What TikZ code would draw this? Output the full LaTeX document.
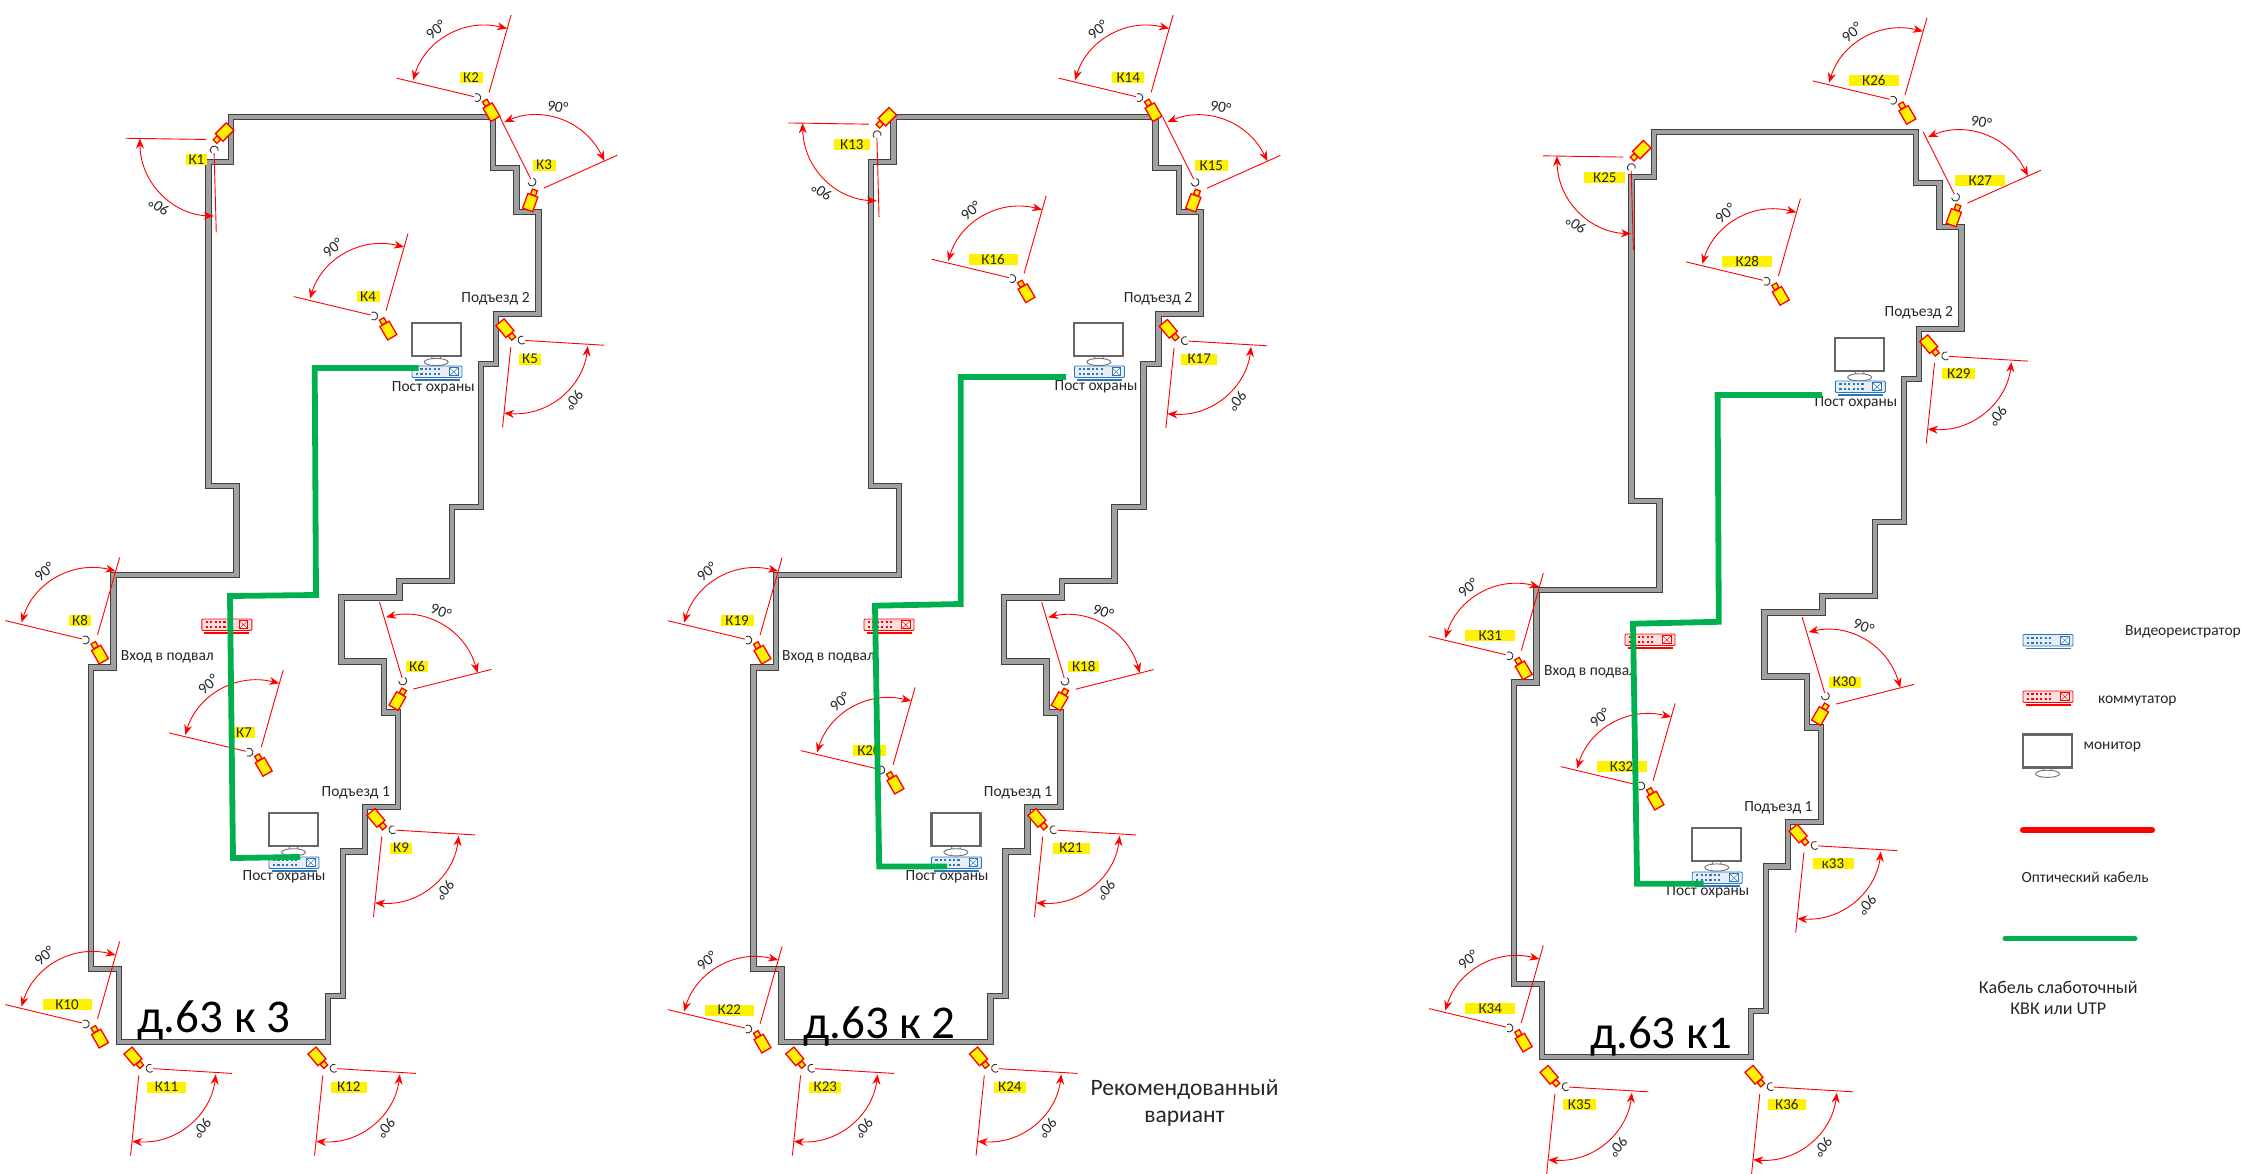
\documentclass[tikz,border=0pt]{standalone}
\usepackage{fontspec}
\setmainfont{Carlito}
\usetikzlibrary{arrows.meta}
\definecolor{walldark}{HTML}{404040}
\definecolor{wallgray}{HTML}{A0A0A0}
\definecolor{cablegreen}{HTML}{00B050}
\definecolor{nvrblue}{HTML}{2E75B6}
\definecolor{txtdark}{HTML}{262626}
\tikzset{
  wall/.style={draw=walldark, line width=1pt, double=wallgray, double distance=4.4pt, miter limit=4},
  cable/.style={cablegreen, line width=5.8pt},
  ray/.style={red, line width=.9pt},
  sector/.style={red, line width=.9pt, {Stealth[length=10pt,width=8pt]}-{Stealth[length=10pt,width=8pt]}},
  cambody/.style={fill=yellow, draw=red, line width=1.3pt},
  camlabel/.style={fill=yellow, inner sep=0pt, minimum width=#1pt, minimum height=11pt, font=\fontsize{15}{15}\selectfont, text=txtdark},
  plainlabel/.style={font=\fontsize{15.5}{15.5}\selectfont, text=txtdark, inner sep=0pt},
  title/.style={font=\fontsize{47}{47}\selectfont, text=black, inner sep=0pt},
  pics/walls/.style={code={
    \draw[wall] (231,117) -- (493,117) -- (493,168) -- (516.5,168) -- (516.5,212) -- (538.5,212)
      -- (538.5,314) -- (496,314) -- (496,364) -- (481,364) -- (481,507) -- (452,507) -- (452,581)
      -- (399.5,581) -- (399.5,597.5) -- (341.5,597.5) -- (341.5,661.6) -- (384,661.6) -- (384,712.5)
      -- (398,712.5) -- (398,807) -- (365,807) -- (365,851.6) -- (343,851.6) -- (343,996) -- (328,996)
      -- (328,1042) -- (119,1042) -- (119,969) -- (91,969) -- (91,667.5) -- (113.4,667.5) -- (113.4,575)
      -- (236.6,575) -- (236.6,486) -- (208.5,486) -- (208.5,162) -- (231,162) -- cycle;
  }},
  pics/cam/.style={code={
    \draw[ray] ({-80*#1},{-19.4*#1}) -- (-3,-1);
    \draw[ray] (12.3,-5.2) -- (34.3,-82.6);
    \draw[sector] (-63.7,-17.5) .. controls (-52,-56) and (-14,-80) .. (30.3,-69);
    \node[font=\fontsize{15.5}{15.5}\selectfont, text=txtdark, inner sep=0pt, rotate=40, transform shape] (-deg) at (-41,-68) {90°};
    \draw[black!80, line width=.9pt] (120:4) arc[start angle=120, end angle=-120, radius=4];
    \begin{scope}[shift={(14.7,14.6)}, rotate=30]
      \filldraw[cambody] (-2.6,-13.5) rectangle (2.6,-8.2);
      \filldraw[cambody] (-5.3,-7.7) rectangle (5.3,7.7);
    \end{scope}
  }},
  pics/cam/.default=1,
  pics/nvr/.style={code={
    \draw[#1, line width=.9pt, fill=#1!12, rounded corners=1pt] (0,0) rectangle (50,11.5);
    \draw[#1, line width=1.8pt] (2.5,14) -- (47.5,14);
    \draw[#1, line width=2pt, dash pattern=on 2.2pt off 2.2pt] (4,3.2) -- (29,3.2);
    \draw[#1, line width=2pt, dash pattern=on 2.2pt off 2.2pt] (4,8) -- (29,8);
    \draw[#1, line width=.8pt, fill=white] (37.5,1.8) rectangle (46,9.8);
    \draw[#1, line width=.5pt] (37.5,1.8) -- (46,9.8) (37.5,9.8) -- (46,1.8);
  }},
  pics/monitor/.style={code={
    \draw[walldark!80, line width=2.2pt, fill=white] (0,0) rectangle (49,33);
    \draw[walldark!75, line width=.8pt] (20.5,34) -- (19.5,37) (28.5,34) -- (29.5,37);
    \draw[walldark!75, line width=.9pt, fill=white] (24.5,39.3) ellipse [x radius=12, y radius=3.6];
  }}
}
\begin{document}
\begin{tikzpicture}[x=1pt, y=-1pt]
  \useasboundingbox (0,0) rectangle (2241,1173);

  % house 3
  \pic (house3) at (0,0) {walls};
  \pic (sw3) at (201.8,619) {nvr=red};
  \pic (mon3a) at (411.7,322.7) {monitor};
  \pic (nvr3a) at (412,366) {nvr=nvrblue};
  \pic (mon3b) at (269,813) {monitor};
  \pic (nvr3b) at (269,857) {nvr=nvrblue};
  \pic[rotate=105] (cam1) at (214.3,150) {cam};
  \pic (cam2) at (476.8,97.6) {cam};
  \pic[rotate=-50] (cam3) at (532,182) {cam=.88};
  \pic (cam4) at (373.7,316) {cam};
  \pic[rotate=190] (cam5) at (522,340) {cam};
  \pic[rotate=-60] (cam6) at (402.7,681) {cam};
  \pic (cam7) at (249,752.3) {cam};
  \pic (cam8) at (85.3,640) {cam};
  \pic[rotate=190] (cam9) at (392.9,829.7) {cam};
  \pic (cam10) at (85.3,1024) {cam};
  \pic[rotate=190] (cam11) at (150,1068.2) {cam};
  \pic[rotate=190] (cam12) at (334,1068.2) {cam};
  \node[camlabel=21] (k1) at (196.4,159.6) {К1};
  \node[camlabel=23] (k2) at (471,77.7) {К2};
  \node[camlabel=23] (k3) at (544,165) {К3};
  \node[camlabel=23] (k4) at (368,296.6) {К4};
  \node[camlabel=22] (k5) at (530,359) {К5};
  \node[camlabel=22] (k6) at (417,666.7) {К6};
  \node[camlabel=21] (k7) at (244,732.8) {К7};
  \node[camlabel=22] (k8) at (80,620.6) {К8};
  \node[camlabel=22] (k9) at (401,848) {К9};
  \node[camlabel=49] (k10) at (67,1004.5) {К10};
  \node[camlabel=39] (k11) at (166.5,1087) {К11};
  \node[camlabel=36] (k12) at (348.7,1087) {К12};
  \node[plainlabel] (door3b) at (495.5,298.5) {Подъезд 2};
  \node[plainlabel] (door3a) at (355.8,792.6) {Подъезд 1};
  \node[plainlabel] (cellar3) at (167.4,656.6) {Вход в подвал};
  \node[plainlabel] (post3a) at (433.3,387.8) {Пост охраны};
  \node[plainlabel] (post3b) at (284,876.5) {Пост охраны};
  \node[title] (name3) at (214,1020) {д.63 к 3};
  \draw[cable] (418.7,368) -- (314.7,368) -- (316,595) -- (230,596) -- (233,858) -- (300,857);

  % house 2
  \pic (house2) at (662.5,0) {walls};
  \pic (sw2) at (864,619) {nvr=red};
  \pic (mon2a) at (1074.3,322.7) {monitor};
  \pic (nvr2a) at (1074.5,366) {nvr=nvrblue};
  \pic (mon2b) at (931.4,813) {monitor};
  \pic (nvr2b) at (931.4,857) {nvr=nvrblue};
  \pic[rotate=105] (cam13) at (877.1,134.7) {cam};
  \pic (cam14) at (1138.8,97.6) {cam};
  \pic[rotate=-50] (cam15) at (1195,182.2) {cam=.88};
  \pic (cam16) at (1011.8,278.6) {cam};
  \pic[rotate=190] (cam17) at (1185.3,340.6) {cam};
  \pic[rotate=-60] (cam18) at (1064.9,681.2) {cam};
  \pic (cam19) at (747.8,640.1) {cam};
  \pic (cam20) at (880.8,770) {cam};
  \pic[rotate=190] (cam21) at (1053.9,829.7) {cam};
  \pic (cam22) at (747.8,1029) {cam};
  \pic[rotate=190] (cam23) at (811.8,1068.2) {cam};
  \pic[rotate=190] (cam24) at (995.5,1068.2) {cam};
  \node[camlabel=36] (k13) at (851.8,144.7) {К13};
  \node[camlabel=32] (k14) at (1128.2,77.7) {К14};
  \node[camlabel=33] (k15) at (1211.4,165.3) {К15};
  \node[camlabel=49] (k16) at (993,259) {К16};
  \node[camlabel=36] (k17) at (1199.2,359) {К17};
  \node[camlabel=31] (k18) at (1083.7,666.3) {К18};
  \node[camlabel=33] (k19) at (737.1,620.6) {К19};
  \node[camlabel=33] (k20) at (869,750.8) {К20};
  \node[camlabel=37] (k21) at (1071,848.1) {К21};
  \node[camlabel=49] (k22) at (729.4,1010) {К22};
  \node[camlabel=32] (k23) at (825.3,1087) {К23};
  \node[camlabel=32] (k24) at (1009.8,1087) {К24};
  \node[plainlabel] (door2b) at (1158,298.5) {Подъезд 2};
  \node[plainlabel] (door2a) at (1018,792.6) {Подъезд 1};
  \node[plainlabel] (cellar2) at (828.6,656.6) {Вход в подвал};
  \node[plainlabel] (post2a) at (1096,387) {Пост охраны};
  \node[plainlabel] (post2b) at (947,876.5) {Пост охраны};
  \node[title] (name2) at (879.5,1026.5) {д.63 к 2};
  \node[font=\fontsize{23.5}{23.5}\selectfont, text=txtdark, inner sep=0pt] (advice1) at (1184.5,1089.5) {Рекомендованный};
  \node[font=\fontsize{23.5}{23.5}\selectfont, text=txtdark, inner sep=0pt] (advice2) at (1184.5,1119) {вариант};
  \draw[cable] (1066,377) -- (960.8,377) -- (960.8,604) -- (875,605.7) -- (879.2,866.5) -- (947,866.5);

  % house 1
  \pic (house1) at (1423,15) {walls};
  \pic (sw1) at (1625,634) {nvr=red};
  \pic (mon1a) at (1835.1,338) {monitor};
  \pic (nvr1a) at (1835.3,381) {nvr=nvrblue};
  \pic (mon1b) at (1692.2,828.2) {monitor};
  \pic (nvr1b) at (1692.2,872) {nvr=nvrblue};
  \pic[rotate=105] (cam25) at (1631.4,167.6) {cam};
  \pic (cam26) at (1892.7,100.3) {cam};
  \pic[rotate=-50] (cam27) at (1955.5,197.1) {cam=.88};
  \pic (cam28) at (1766.1,281.3) {cam};
  \pic[rotate=190] (cam29) at (1945.7,355.9) {cam};
  \pic[rotate=-60] (cam30) at (1825.3,696) {cam};
  \pic (cam31) at (1509,655.8) {cam};
  \pic (cam32) at (1640.8,786) {cam};
  \pic[rotate=190] (cam33) at (1815.1,845.4) {cam};
  \pic (cam34) at (1509,1028) {cam};
  \pic[rotate=190] (cam35) at (1566.1,1086.6) {cam};
  \pic[rotate=190] (cam36) at (1771,1086.6) {cam};
  \node[camlabel=41] (k25) at (1604.9,177.6) {К25};
  \node[camlabel=50] (k26) at (1873.9,80.4) {К26};
  \node[camlabel=50] (k27) at (1980.4,180.6) {К27};
  \node[camlabel=50] (k28) at (1747.3,261.4) {К28};
  \node[camlabel=33] (k29) at (1958.8,373.9) {К29};
  \node[camlabel=32] (k30) at (1844.5,682) {К30};
  \node[camlabel=50] (k31) at (1490.2,635.8) {К31};
  \node[camlabel=50] (k32) at (1621.6,766.4) {К32};
  \node[camlabel=41] (k33) at (1833,863.4) {к33};
  \node[camlabel=50] (k34) at (1490.2,1008.8) {К34};
  \node[camlabel=33] (k35) at (1579.6,1104.6) {К35};
  \node[camlabel=38] (k36) at (1786.9,1104.6) {К36};
  \node[plainlabel] (door1b) at (1918.8,312.7) {Подъезд 2};
  \node[plainlabel] (door1a) at (1778.4,808.2) {Подъезд 1};
  \node[plainlabel] (cellar1) at (1590.6,672.2) {Вход в подвал};
  \node[plainlabel] (post1a) at (1855.9,402.3) {Пост охраны};
  \node[plainlabel] (post1b) at (1707.8,892) {Пост охраны};
  \node[title] (name1) at (1661,1036.5) {д.63 к1};
  \draw[cable] (1822,395) -- (1717.6,395) -- (1718.8,621.8) -- (1633,623.7) -- (1637.1,883.7) -- (1703.7,883.7);

  % legend
  \pic (lgnvr) at (2023,634.5) {nvr=nvrblue};
  \pic (lgsw) at (2023,691) {nvr=red};
  \pic (lgmon) at (2023,734.5) {monitor};
  \node[plainlabel] (txtnvr) at (2183,632.2) {Видеореистратор};
  \node[plainlabel] (txtsw) at (2137.3,700.5) {коммутатор};
  \node[plainlabel] (txtmon) at (2112.3,746.5) {монитор};
  \coordinate (lgred1) at (2023,830);
  \coordinate (lgred2) at (2152,830);
  \draw[red, line width=6pt, line cap=round] (lgred1) -- (lgred2);
  \node[plainlabel] (txtopt) at (2085,877.2) {Оптический кабель};
  \coordinate (lggreen1) at (2005,938.7);
  \coordinate (lggreen2) at (2135,938.7);
  \draw[cablegreen, line width=5pt, line cap=round] (lggreen1) -- (lggreen2);
  \node[font=\fontsize{18}{18}\selectfont, text=txtdark, inner sep=0pt] (txtlow1) at (2058.3,987.8) {Кабель слаботочный};
  \node[font=\fontsize{18}{18}\selectfont, text=txtdark, inner sep=0pt] (txtlow2) at (2058.3,1008.8) {КВК или UTP};
\end{tikzpicture}
\end{document}
